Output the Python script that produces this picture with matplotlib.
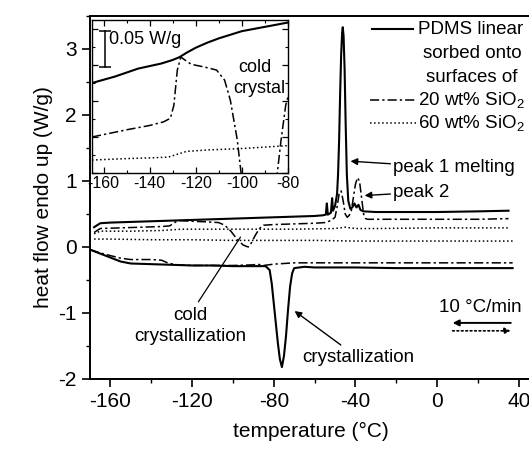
import matplotlib
matplotlib.use('Agg')
import matplotlib.pyplot as plt
from matplotlib.lines import Line2D
from matplotlib.ticker import MultipleLocator

plt.rcParams['font.family'] = ['Liberation Sans', 'DejaVu Sans']
plt.rcParams['mathtext.fontset'] = 'custom'
plt.rcParams['mathtext.rm'] = 'Liberation Sans'
plt.rcParams['mathtext.it'] = 'Liberation Sans'
plt.rcParams['axes.unicode_minus'] = False

# --- main plot data (temperature in degC, heat flow in W/g) ---
# PDMS linear, heating
T_lin_h = [-168, -165, -160, -150, -140, -130, -120, -110, -100, -90, -80, -70, -60, -56,
           -54.5, -54, -53.5, -52, -51.4, -51, -50, -49, -48.5, -48, -47.5, -47, -46.5, -46.2,
           -45.8, -45.3, -44.8, -44.2, -43.5, -42.5, -41.5, -40.5, -39.5, -38.5, -37.5, -36,
           -30, -20, 0, 20, 35]
q_lin_h = [0.30, 0.36, 0.37, 0.38, 0.39, 0.40, 0.41, 0.42, 0.43, 0.44, 0.45, 0.46, 0.47, 0.48,
           0.49, 0.66, 0.49, 0.52, 0.74, 0.55, 0.62, 0.80, 1.10, 1.60, 2.30, 2.90, 3.25, 3.33,
           3.20, 2.70, 1.90, 1.10, 0.70, 0.58, 0.60, 0.66, 0.60, 0.64, 0.56, 0.54,
           0.53, 0.53, 0.53, 0.54, 0.55]

# 20 wt% SiO2, heating
T_20_h = [-168, -165, -155, -145, -135, -131, -129, -127.5, -126, -120, -112, -107, -104, -101,
          -98, -95, -92.5, -91, -89, -87, -85, -80, -70, -60, -55, -52, -50, -49, -48, -47,
          -46, -45, -44, -43, -42, -41, -40, -39, -38, -37, -36, -35, -34, -30, -20, 0, 20, 35]
q_20_h = [0.22, 0.28, 0.29, 0.30, 0.31, 0.32, 0.36, 0.39, 0.40, 0.39, 0.38, 0.37, 0.33, 0.24,
          0.12, 0.03, 0.00, 0.06, 0.18, 0.28, 0.33, 0.34, 0.35, 0.36, 0.37, 0.40, 0.45, 0.60, 0.80,
          0.85, 0.70, 0.50, 0.45, 0.48, 0.55, 0.75, 0.95, 1.05, 1.00, 0.75, 0.50, 0.43, 0.42,
          0.42, 0.42, 0.42, 0.42, 0.43]

# 60 wt% SiO2, heating
T_60_h = [-168, -165, -150, -135, -130, -125, -110, -90, -70, -50, -45, -40, -30, 0, 35]
q_60_h = [0.20, 0.24, 0.24, 0.25, 0.26, 0.27, 0.27, 0.27, 0.27, 0.28, 0.30, 0.28, 0.28, 0.29, 0.29]

# PDMS linear, cooling
T_lin_c = [-170, -165, -160, -155, -150, -140, -130, -120, -110, -100, -90, -84, -82, -81, -80,
           -79, -78, -77, -76, -75, -74, -73, -72, -71, -70, -65, -60, -40, -20, 0, 20, 37]
q_lin_c = [-0.04, -0.10, -0.16, -0.22, -0.25, -0.26, -0.27, -0.28, -0.28, -0.29, -0.29, -0.29,
           -0.35, -0.55, -0.85, -1.15, -1.45, -1.70, -1.82, -1.65, -1.35, -0.95, -0.60, -0.40,
           -0.32, -0.30, -0.31, -0.31, -0.32, -0.32, -0.32, -0.32]

# 20 wt% SiO2, cooling
T_20_c = [-170, -165, -160, -155, -150, -140, -135, -132, -128, -120, -100, -90, -88, -85, -80,
          -70, -60, -40, -20, 0, 20, 37]
q_20_c = [-0.04, -0.09, -0.13, -0.17, -0.19, -0.19, -0.20, -0.24, -0.27, -0.28, -0.28, -0.27,
          -0.26, -0.28, -0.26, -0.24, -0.24, -0.24, -0.24, -0.24, -0.24, -0.24]

# 60 wt% SiO2, cooling
T_60_c = [-168, -160, -140, -120, -100, -80, -60, -40, -20, 0, 20, 37]
q_60_c = [0.12, 0.12, 0.11, 0.11, 0.10, 0.10, 0.10, 0.09, 0.09, 0.09, 0.09, 0.09]

# --- inset data (glass transition region, heating, offset scale) ---
T_in_lin = [-165, -155, -145, -135, -130, -127, -124, -120, -115, -110, -105, -100, -95, -90, -85, -80]
q_in_lin = [0.125, 0.134, 0.145, 0.152, 0.157, 0.161, 0.167, 0.174, 0.181, 0.187, 0.192, 0.197,
            0.200, 0.203, 0.206, 0.209]
T_in_20 = [-165, -150, -140, -134, -131, -129.5, -128, -126.5, -122, -116, -111, -107.5, -105,
           -102, -100, -97, -92, -88, -85, -83, -81, -80]
q_in_20 = [0.050, 0.060, 0.066, 0.071, 0.076, 0.094, 0.143, 0.161, 0.151, 0.147, 0.143, 0.129,
           0.101, 0.046, -0.010, -0.060, -0.080, -0.060, -0.010, 0.046, 0.094, 0.106]
T_in_60 = [-165, -150, -140, -132, -128, -124, -115, -100, -90, -80]
q_in_60 = [0.018, 0.020, 0.021, 0.022, 0.026, 0.030, 0.032, 0.034, 0.036, 0.038]

W, H = 529, 449
fig = plt.figure(figsize=(W / 100, H / 100), dpi=100)


def fx(px):
    return px / W


def fy(py):
    return 1 - py / H


ax = fig.add_axes([fx(90), fy(379), 441 / W, 363 / H])
dd = (0, (6, 2, 1.5, 2))
ax.plot(T_lin_h, q_lin_h, color='black', lw=1.5)
ax.plot(T_20_h, q_20_h, color='black', lw=1.1, linestyle=dd)
ax.plot(T_60_h, q_60_h, color='black', lw=1.1, linestyle=':')
ax.plot(T_lin_c, q_lin_c, color='black', lw=1.5)
ax.plot(T_20_c, q_20_c, color='black', lw=1.1, linestyle=dd)
ax.plot(T_60_c, q_60_c, color='black', lw=1.1, linestyle=':')

ax.set_xlim(-170, 46)
ax.set_ylim(-2, 3.5)
ax.xaxis.set_major_locator(MultipleLocator(40))
ax.xaxis.set_minor_locator(MultipleLocator(20))
ax.yaxis.set_major_locator(MultipleLocator(1))
ax.yaxis.set_minor_locator(MultipleLocator(0.5))
ax.tick_params(which='major', direction='out', length=6, width=1.2, labelsize=15)
ax.tick_params(which='minor', direction='out', length=3, width=1.0)
ax.tick_params(top=False, right=False)
for s in ax.spines.values():
    s.set_linewidth(1.4)
ax.spines['right'].set_visible(False)
ax.set_xlabel('temperature (°C)', fontsize=15, labelpad=8)
ax.set_ylabel('heat flow endo up (W/g)', fontsize=15, labelpad=4)

# annotations
fs = 13.5
ax.annotate('peak 1 melting', xy=(-42.4, 1.30), xytext=(-21.5, 1.20), fontsize=fs,
            va='center', ha='left',
            arrowprops=dict(arrowstyle='-|>', color='black', lw=1.0, shrinkA=0, shrinkB=0,
                            mutation_scale=10))
ax.annotate('peak 2', xy=(-35.5, 0.78), xytext=(-21.5, 0.83), fontsize=fs,
            va='center', ha='left',
            arrowprops=dict(arrowstyle='-|>', color='black', lw=1.0, shrinkA=0, shrinkB=0,
                            mutation_scale=10))
ax.annotate('crystallization', xy=(-69.8, -0.97), xytext=(-66, -1.68), fontsize=fs,
            va='center', ha='left',
            arrowprops=dict(arrowstyle='-|>', color='black', lw=1.0, shrinkA=2, shrinkB=0,
                            mutation_scale=10))
ax.annotate('', xy=(-96.3, 0.15), xytext=(-116.9, -0.83),
            arrowprops=dict(arrowstyle='-', color='black', lw=0.9, shrinkA=0, shrinkB=0))
ax.text(-120.8, -1.2, 'cold\ncrystallization', fontsize=fs, ha='center', va='center',
        linespacing=1.35)
ax.text(21, -0.91, '10 °C/min', fontsize=fs, ha='center', va='center')
ax.annotate('', xy=(7.6, -1.15), xytext=(36.1, -1.15),
            arrowprops=dict(arrowstyle='-|>', color='black', lw=1.4, shrinkA=0, shrinkB=0,
                            mutation_scale=9))
ax.annotate('', xy=(36.1, -1.27), xytext=(7.6, -1.27),
            arrowprops=dict(arrowstyle='-|>', color='black', lw=1.2, linestyle=':',
                            shrinkA=0, shrinkB=0, mutation_scale=9))

# legend drawn by hand
fig.add_artist(Line2D([fx(372), fx(413)], [fy(29), fy(29)], color='black', lw=1.5))
fig.add_artist(Line2D([fx(370), fx(416)], [fy(100), fy(100)], color='black', lw=1.1, linestyle=dd))
fig.add_artist(Line2D([fx(370), fx(416)], [fy(123), fy(123)], color='black', lw=1.1, linestyle=':'))
fig.text(fx(418), fy(29), 'PDMS linear', fontsize=fs, va='center', ha='left')
fig.text(fx(472), fy(53), 'sorbed onto', fontsize=fs, va='center', ha='center')
fig.text(fx(472), fy(77), 'surfaces of', fontsize=fs, va='center', ha='center')
fig.text(fx(418), fy(100), '20 wt% SiO$_2$', fontsize=fs, va='center', ha='left')
fig.text(fx(418), fy(123), '60 wt% SiO$_2$', fontsize=fs, va='center', ha='left')

# inset
axin = fig.add_axes([fx(92), fy(173), 196 / W, 153 / H])
axin.plot(T_in_lin, q_in_lin, color='black', lw=1.5)
axin.plot(T_in_20, q_in_20, color='black', lw=1.1, linestyle=dd)
axin.plot(T_in_60, q_in_60, color='black', lw=1.1, linestyle=':')
axin.set_xlim(-165, -80)
axin.set_ylim(0, 0.2125)
axin.xaxis.set_major_locator(MultipleLocator(20))
axin.xaxis.set_minor_locator(MultipleLocator(10))
axin.yaxis.set_major_locator(MultipleLocator(0.05))
axin.yaxis.set_minor_locator(MultipleLocator(0.025))
axin.tick_params(which='both', direction='in', top=True, right=True, labelleft=False,
                 labelsize=11.5, pad=2)
axin.tick_params(which='major', length=4, width=0.9)
axin.tick_params(which='minor', length=2, width=0.8)
for s in axin.spines.values():
    s.set_linewidth(1.0)
    s.set_linestyle((0, (1, 1)))

# scale bar
axin.plot([-159.4, -159.4], [0.147, 0.197], color='black', lw=1.1)
axin.plot([-159.4, -159.4], [0.147, 0.197], color='black', lw=0, marker='_', markersize=8,
          markeredgewidth=1.1)
axin.text(-157.8, 0.186, '0.05 W/g', fontsize=13, va='center', ha='left')
axin.text(-94.3, 0.146, 'cold', fontsize=13, va='center', ha='center')
axin.text(-92.3, 0.118, 'crystal', fontsize=13, va='center', ha='center')

fig.savefig('out.png', dpi=100)
